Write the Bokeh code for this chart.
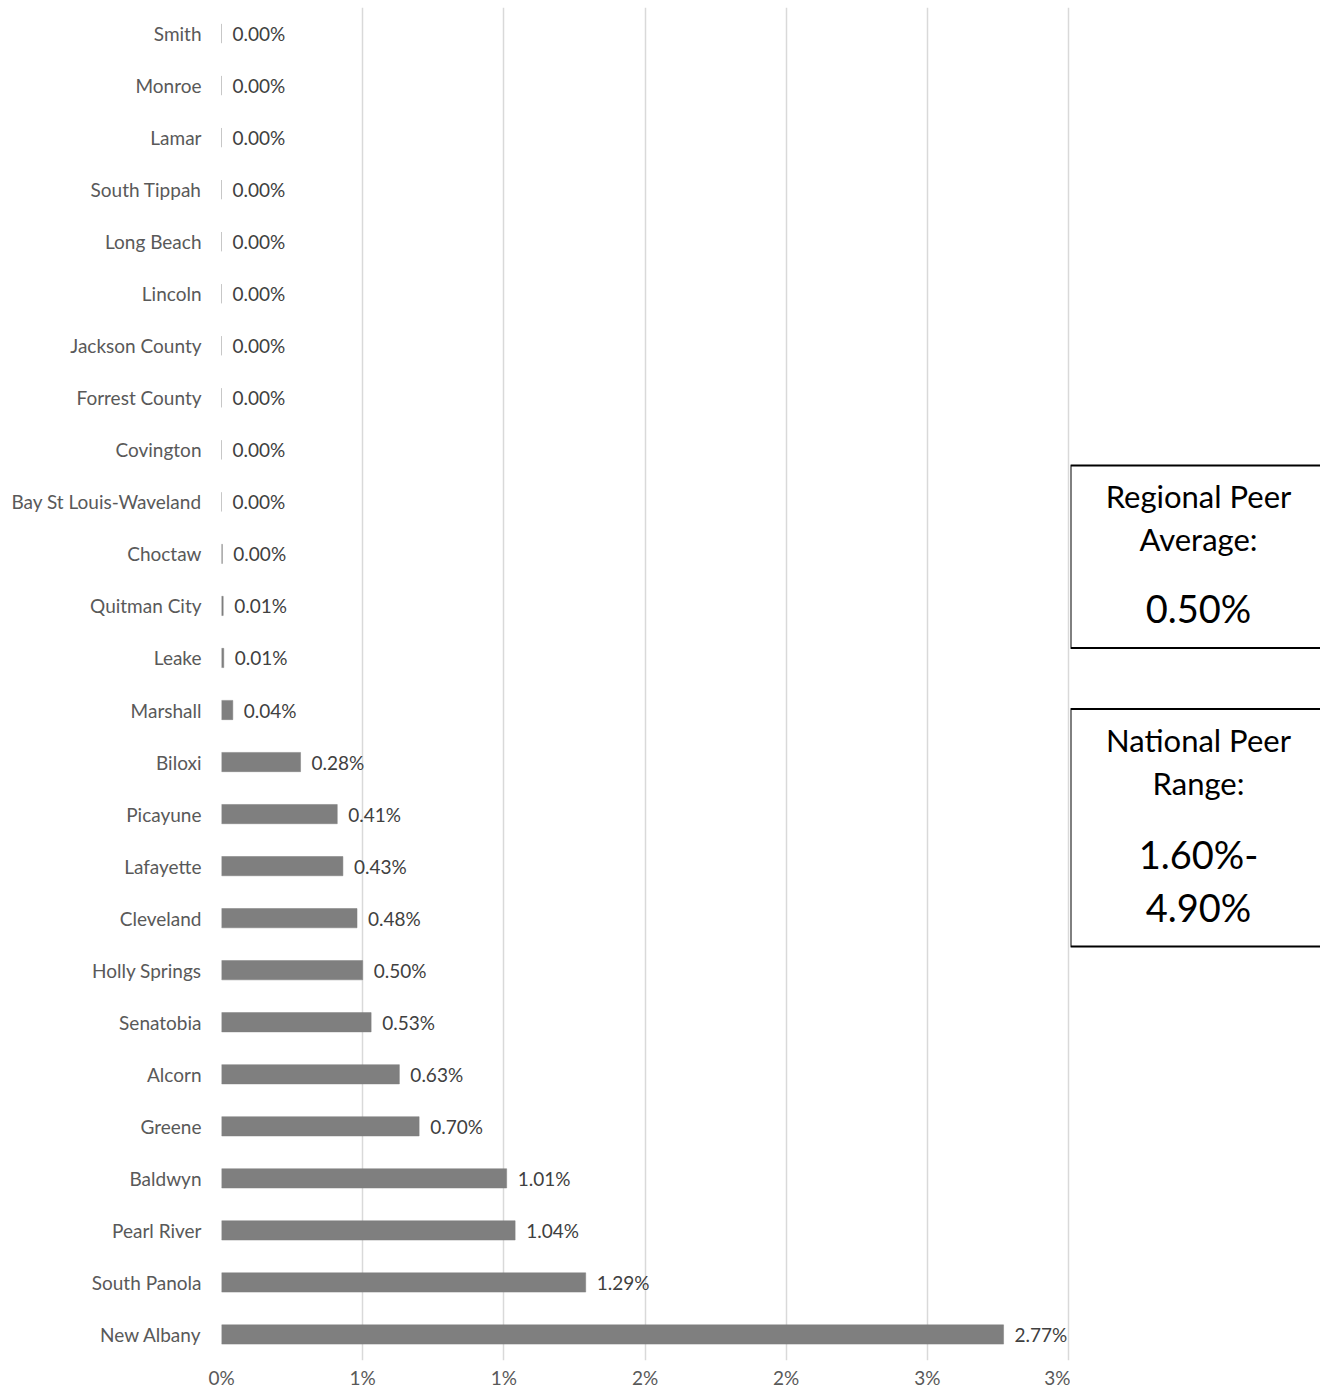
from bokeh.plotting import figure
from bokeh.layouts import row
from bokeh.models import FactorRange, Range1d, FixedTicker, ColumnDataSource
from bokeh.core.properties import value
from bokeh.embed import file_html
from bokeh.resources import INLINE

categories = ["New Albany", "South Panola", "Pearl River", "Baldwyn", "Greene", "Alcorn",
              "Senatobia", "Holly Springs", "Cleveland", "Lafayette", "Picayune", "Biloxi",
              "Marshall", "Leake", "Quitman City", "Choctaw", "Bay St Louis-Waveland",
              "Covington", "Forrest County", "Jackson County", "Lincoln", "Long Beach",
              "South Tippah", "Lamar", "Monroe", "Smith"]
values = [2.77, 1.29, 1.04, 1.01, 0.70, 0.63, 0.53, 0.50, 0.48, 0.43, 0.41, 0.28,
          0.04, 0.008, 0.006, 0.003, 0, 0, 0, 0, 0, 0, 0, 0, 0, 0]
tick_values = [0, 0.5, 1.0, 1.5, 2.0, 2.5, 3.0]
tick_labels = ["0%", "1%", "1%", "2%", "2%", "3%", "3%"]

box_lines_regional = ["Regional Peer", "Average:"]
box_value_regional = ["0.50%"]
box_lines_national = ["National Peer", "Range:"]
box_value_national = ["1.60%-", "4.90%"]

FONT = "Lato"

src = ColumnDataSource(dict(cat=categories, val=values,
                            lab=["{:.2f}%".format(v) for v in values]))

# layout geometry (pixels)
W_TOTAL, H = 1320, 1391
LEFT, TOP, FRAME_H = 221, 7, 1356
FRAME_W = 849            # 3% gridline sits 847 px right of 0%
W1 = LEFT + FRAME_W
BOTTOM = H - TOP - FRAME_H

p = figure(width=W1, height=H, y_range=FactorRange(factors=categories, range_padding=0),
           x_range=Range1d(0, 3.0 * FRAME_W / 847), output_backend="svg", toolbar_location=None,
           min_border_left=LEFT, min_border_right=0, min_border_top=TOP, min_border_bottom=BOTTOM)
p.outline_line_color = None
p.background_fill_color = "white"
p.border_fill_color = "white"

p.hbar(y="cat", right="val", left=0, height=0.37, source=src,
       fill_color="#7f7f7f", line_color="#7f7f7f", line_width=0.5)
p.text(x="val", y="cat", text="lab", source=src, x_offset=11,
       text_baseline="middle", text_align="left",
       text_font=value(FONT), text_font_size="19px", text_color="#404040")

p.xaxis.ticker = FixedTicker(ticks=tick_values)
p.xaxis.major_label_overrides = {t: l for t, l in zip(tick_values, tick_labels)}
p.xaxis.axis_line_color = None
p.xaxis.major_tick_line_color = None
p.xaxis.minor_tick_line_color = None
p.xaxis.major_tick_out = 0
p.xaxis.major_tick_in = 0
p.xaxis.minor_tick_out = 0
p.xaxis.major_label_standoff = 5
p.xaxis.major_label_text_font = FONT
p.xaxis.major_label_text_font_size = "19px"
p.xaxis.major_label_text_color = "#595959"

p.yaxis.axis_line_color = None
p.yaxis.major_tick_line_color = None
p.yaxis.minor_tick_line_color = None
p.yaxis.major_tick_out = 0
p.yaxis.major_tick_in = 0
p.yaxis.major_label_standoff = 20
p.yaxis.major_label_text_font = FONT
p.yaxis.major_label_text_font_size = "19px"
p.yaxis.major_label_text_color = "#595959"

p.ygrid.grid_line_color = None
p.xgrid.ticker = FixedTicker(ticks=tick_values)
p.xgrid.grid_line_color = "#d9d9d9"
p.xgrid.grid_line_width = 1.5

# Right-hand info panel (its frame is aligned with the chart frame; y in page pixels)
W2 = W_TOTAL - W1
q = figure(width=W2, height=H, x_range=Range1d(0, W2), y_range=Range1d(TOP + FRAME_H, TOP),
           x_axis_type=None, y_axis_type=None, output_backend="svg", toolbar_location=None,
           min_border_left=0, min_border_right=0, min_border_top=TOP, min_border_bottom=BOTTOM)
q.outline_line_color = None
q.grid.visible = False
q.background_fill_color = "white"
q.border_fill_color = "white"

q.quad(left=[0, 0], right=[W2 + 5, W2 + 5], top=[466, 710], bottom=[649, 948],
       fill_color=None, line_color="black", line_width=2)

cx = 128
q.text(x=[cx] * 2, y=[497, 540], text=box_lines_regional, text_align="center",
       text_baseline="middle", text_font=value(FONT), text_font_size="31px", text_color="black")
q.text(x=[cx], y=[609], text=box_value_regional, text_align="center",
       text_baseline="middle", text_font=value(FONT), text_font_size="38px", text_color="black")
q.text(x=[cx] * 2, y=[741, 784], text=box_lines_national, text_align="center",
       text_baseline="middle", text_font=value(FONT), text_font_size="31px", text_color="black")
q.text(x=[cx] * 2, y=[855, 908], text=box_value_national, text_align="center",
       text_baseline="middle", text_font=value(FONT), text_font_size="38px", text_color="black")

layout = row(p, q, spacing=0)
open("out.html", "w").write(file_html(layout, INLINE))
